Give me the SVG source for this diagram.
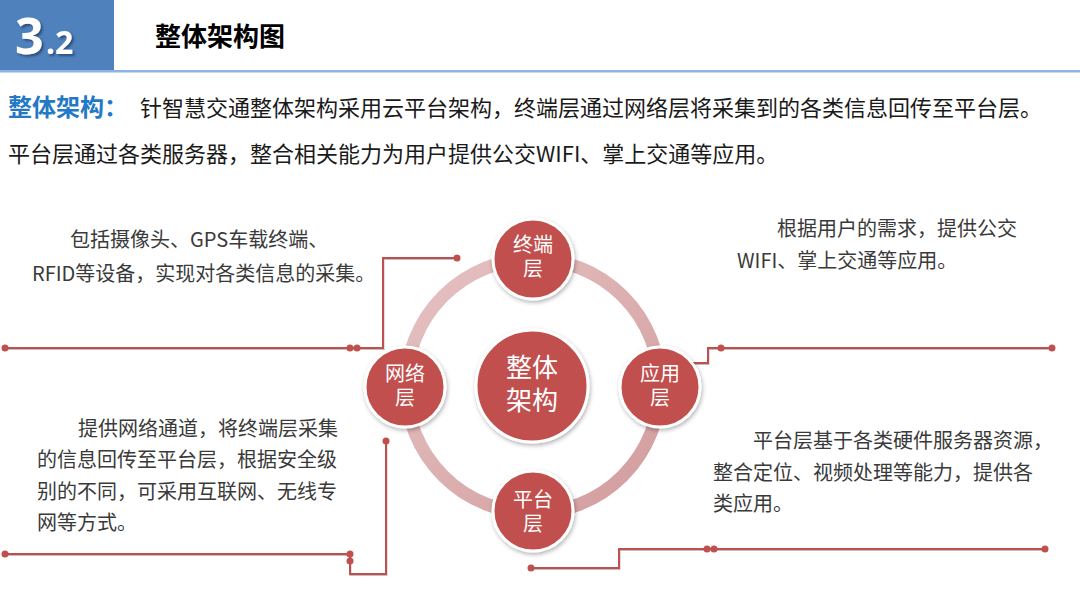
<svg xmlns="http://www.w3.org/2000/svg" width="1080" height="607" viewBox="0 0 1080 607">
<style>
.cjk{font-family:"Noto Sans CJK SC","Microsoft YaHei",sans-serif}
.body{font-family:"Noto Sans CJK SC",sans-serif;font-size:20px;fill:#3a3a3a}
.lbl{font-family:"Noto Sans CJK SC",sans-serif;font-size:20px;fill:#ffffff;text-anchor:middle}
.big{font-size:26px}
.node{fill:#C0504D;stroke:#ffffff;stroke-width:3;filter:url(#sh)}
.conn{fill:none;stroke:#C0504D;stroke-width:2;filter:url(#lsh)}
.dot{fill:#C0504D}
</style>
<defs>
<filter id="sh" x="-20%" y="-20%" width="140%" height="140%">
<feDropShadow dx="1" dy="2" stdDeviation="2" flood-color="#000" flood-opacity="0.3"/>
</filter>
<filter id="lsh" x="-5%" y="-50%" width="110%" height="200%">
<feDropShadow dx="0.5" dy="1" stdDeviation="0.6" flood-color="#000" flood-opacity="0.25"/>
</filter>
<filter id="tsh" x="-20%" y="-20%" width="140%" height="140%">
<feDropShadow dx="2" dy="2" stdDeviation="1.2" flood-color="#1f3a5c" flood-opacity="0.7"/>
</filter>
<linearGradient id="ring" x1="0" y1="0" x2="1" y2="1">
<stop offset="0" stop-color="#E6C3C3"/>
<stop offset="1" stop-color="#D29C9D"/>
</linearGradient>
</defs>
<rect width="1080" height="607" fill="#ffffff"/>
<g id="header">
<rect x="0" y="0" width="114" height="70" fill="#4F81BD"/>
<rect x="0" y="70" width="1080" height="2.5" fill="#8DB4E2"/>
<g filter="url(#tsh)" fill="#ffffff" font-family="'Noto Sans','Liberation Sans',sans-serif" font-weight="bold">
<text x="15" y="54" font-size="50">3</text>
<text x="46" y="54" font-size="32">.2</text>
</g>
<text x="155" y="46" class="cjk" font-size="26" font-weight="bold" fill="#000">整体架构图</text>
</g>
<g id="intro">
<text x="8" y="116" class="cjk" font-size="24" font-weight="bold" fill="#2379C6">整体架构：</text>
<text x="140" y="116" class="cjk" font-size="22" fill="#1a1a1a">针智慧交通整体架构采用云平台架构，终端层通过网络层将采集到的各类信息回传至平台层。</text>
<text x="8" y="162" class="cjk" font-size="22" fill="#1a1a1a">平台层通过各类服务器，整合相关能力为用户提供公交WIFI、掌上交通等应用。</text>
</g>
<g id="connectors">
<path class="conn" d="M4,348 H383 V258 H457"/>
<path class="conn" d="M693,363 H708 V348 H1052"/>
<path class="conn" d="M4,554 H350 V574 H386 V441"/>
<path class="conn" d="M531,568 H619 V549 H1045"/>
<g class="dot">
<circle cx="5" cy="348" r="3.5"/><circle cx="350" cy="348" r="3.5"/><circle cx="357" cy="348" r="3.5"/><circle cx="457" cy="258" r="3.5"/>
<circle cx="721" cy="348" r="3.5"/><circle cx="1052" cy="348" r="3.5"/>
<circle cx="5" cy="554" r="3.5"/><circle cx="350" cy="554" r="3.5"/><circle cx="350" cy="561" r="3.5"/><circle cx="386" cy="441" r="3.5"/>
<circle cx="531" cy="568" r="3.5"/><circle cx="707" cy="549" r="3.5"/><circle cx="714" cy="549" r="3.5"/><circle cx="1045" cy="549" r="3.5"/>
</g>
</g>
<g id="ring-track">
<circle cx="533" cy="386" r="127" fill="none" stroke="url(#ring)" stroke-width="13"/>
</g>
<g id="center">
<circle class="node" cx="532" cy="386" r="56"/>
<text class="lbl big" x="532" y="377">整体</text>
<text class="lbl big" x="532" y="410">架构</text>
</g>
<g id="terminal">
<circle class="node" cx="533" cy="259" r="40"/>
<text class="lbl" x="533" y="252">终端</text>
<text class="lbl" x="533" y="276">层</text>
</g>
<g id="network">
<circle class="node" cx="405" cy="387" r="40"/>
<text class="lbl" x="405" y="381">网络</text>
<text class="lbl" x="405" y="405">层</text>
</g>
<g id="application">
<circle class="node" cx="660" cy="387" r="40"/>
<text class="lbl" x="660" y="381">应用</text>
<text class="lbl" x="660" y="405">层</text>
</g>
<g id="platform">
<circle class="node" cx="533" cy="511" r="40"/>
<text class="lbl" x="533" y="507">平台</text>
<text class="lbl" x="533" y="531">层</text>
</g>
<g id="desc-terminal">
<text class="body" x="70" y="247">包括摄像头、GPS车载终端、</text>
<text class="body" x="32" y="281">RFID等设备，实现对各类信息的采集。</text>
</g>
<g id="desc-application">
<text class="body" x="777" y="236">根据用户的需求，提供公交</text>
<text class="body" x="737" y="268">WIFI、掌上交通等应用。</text>
</g>
<g id="desc-network">
<text class="body" x="78" y="436">提供网络通道，将终端层采集</text>
<text class="body" x="37" y="467">的信息回传至平台层，根据安全级</text>
<text class="body" x="37" y="499">别的不同，可采用互联网、无线专</text>
<text class="body" x="37" y="530">网等方式。</text>
</g>
<g id="desc-platform">
<text class="body" x="753" y="448">平台层基于各类硬件服务器资源，</text>
<text class="body" x="713" y="480">整合定位、视频处理等能力，提供各</text>
<text class="body" x="713" y="511">类应用。</text>
</g>
</svg>
